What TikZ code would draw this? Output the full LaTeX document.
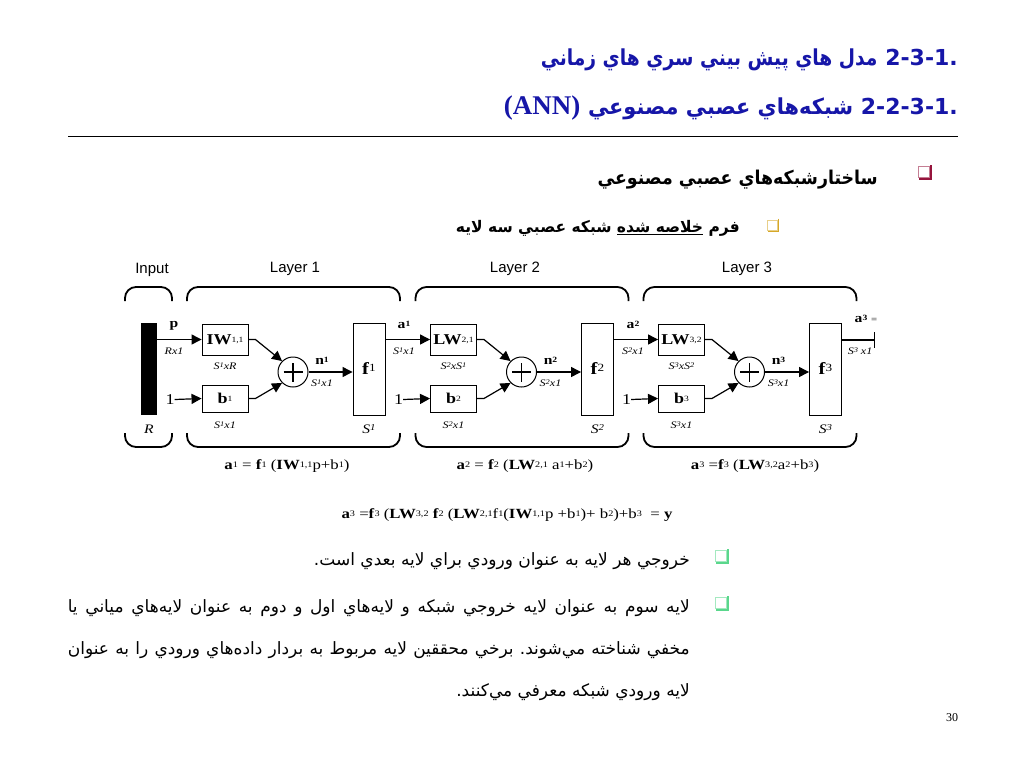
\documentclass[tikz,border=0pt]{standalone}
\usepackage{fontspec}
\setmainfont{Liberation Serif}
\setsansfont{Liberation Sans}
\newfontfamily\fa[Script=Arabic]{DejaVu Sans}
\newfontfamily\dg[FakeStretch=1.2]{Liberation Serif}
\TeXXeTstate=1
\frenchspacing
\usetikzlibrary{arrows.meta}
\definecolor{titleblue}{RGB}{22,22,168}
\definecolor{bred}{RGB}{150,20,60}
\definecolor{bgold}{RGB}{214,168,40}
\definecolor{bgreen}{RGB}{90,215,140}
\newcommand\sps[1]{\raisebox{0.3ex}{\fontsize{8}{8}\selectfont #1}}
\newcommand\fsp[1]{\raisebox{0.3ex}{\fontsize{8.5}{8.5}\selectfont #1}}
\newcommand\dsup[1]{\raisebox{0.45ex}{\fontsize{7}{7}\selectfont #1}}
\newcommand\dimt[1]{{\dg\itshape\fontsize{10}{10}\selectfont #1}}
\tikzset{
 wbox/.style={draw, line width=0.9pt, minimum width=46pt, minimum height=31pt, inner sep=0pt, font=\dg\fontsize{15}{15}\selectfont},
 bbox/.style={wbox, minimum height=27pt},
 fbox/.style={draw, line width=0.9pt, minimum width=32pt, minimum height=92pt, inner sep=0pt, font=\dg\fontsize{17}{17}\selectfont},
 sumc/.style={draw, circle, line width=1pt, minimum size=30pt, inner sep=0pt},
 conn/.style={line width=1.2pt, -{Triangle[length=10pt,width=10pt]}},
 brk/.style={line width=1.8pt, rounded corners=11pt},
 lay/.style={font=\sffamily\fontsize{15}{15}\selectfont, inner sep=0pt},
 lbl/.style={font=\dg\bfseries\fontsize{13}{13}\selectfont, inner sep=0pt},
 dl/.style={inner sep=0pt},
 frm/.style={font=\dg\fontsize{14}{14}\selectfont, inner sep=0pt},
 sqb/.style={draw=#1!55, line width=0.8pt, minimum size=11pt, inner sep=0pt, fill=white},
 shd/.style={draw=#1, line width=1.6pt},
 fatext/.style={font=\fa\fontsize{17}{17}\selectfont, inner sep=0pt},
}
\begin{document}
\begin{tikzpicture}[x=1pt,y=-1pt]
\useasboundingbox (0,0) rectangle (1024,768);
\fill[white] (0,0) rectangle (1024,768);

% ---------- titles ----------
\node[anchor=east, inner sep=0pt, text=titleblue, font=\fa\bfseries\fontsize{22}{22}\selectfont] (t1) at (958,60)
  {\scalebox{0.85}[1]{\beginR مدل هاي پيش بيني سري هاي زماني\endR}{} .2-3-1};
\node[anchor=east, inner sep=0pt, text=titleblue, font=\fa\bfseries\fontsize{22}{22}\selectfont] (t2) at (958,108)
  {{\rmfamily\bfseries\fontsize{27}{27}\selectfont (ANN)} \scalebox{0.95}[1]{\beginR شبکه^^^^200cهاي عصبي مصنوعي\endR}{} .2-2-3-1};
\draw[line width=0.8pt] (68,136) -- (958,136);

% ---------- bullets ----------
\node[sqb=bred] (q1) at (924,172) {};
\draw[shd=bred] ([xshift=1pt,yshift=1pt]q1.north east) |- ([xshift=1pt,yshift=-1pt]q1.south west);
\node[anchor=east, inner sep=0pt, font=\fa\bfseries\fontsize{19}{19}\selectfont] (bt1) at (878,180)
  {\scalebox{0.915}[1]{\beginR ساختارشبکه^^^^200cهاي عصبي مصنوعي\endR}};
\node[sqb=bgold, minimum size=10pt] (q2) at (772,225) {};
\draw[shd=bgold, line width=1.4pt] ([xshift=1pt,yshift=1pt]q2.north east) |- ([xshift=1pt,yshift=-1pt]q2.south west);
\node[anchor=east, inner sep=0pt, font=\fa\bfseries\fontsize{16}{16}\selectfont] (bt2) at (740,228)
  {\scalebox{0.97}[1]{\beginR فرم \underline{\beginR خلاصه شده\endR} شبکه عصبي سه لايه\endR}};

% ---------- diagram: layer titles ----------
\node[lay] (inp) at (152,270) {Input};
\node[lay] (ly1) at (295,269) {Layer 1};
\node[lay] (ly2) at (515,269) {Layer 2};
\node[lay] (ly3) at (747,269) {Layer 3};

% input
\draw[brk] (125,301) |- (148.5,287) -| (172,301);
\draw[brk] (125,433) |- (148.5,447) -| (172,433);
\node[fill=black, minimum width=16pt, minimum height=92pt, inner sep=0pt] (bar) at (149,369) {};
\node[dl] (Rl) at (149,429) {\dg\itshape\fontsize{13}{13}\selectfont R};

% layers
\foreach \i/\dx/\wlab/\wdim in {
  1/0/{\textbf{IW}\sps{1,1}}/{\dimt{S\dsup{1}xR}},
  2/228.5/{\textbf{LW}\sps{2,1}}/{\dimt{S\dsup{2}xS\dsup{1}}},
  3/456.5/{\textbf{LW}\sps{3,2}}/{\dimt{S\dsup{3}xS\dsup{2}}}}{
  \node[wbox] (w\i) at (225+\dx,339.5) {\wlab};
  \node[bbox] (b\i) at (225+\dx,398.5) {\textbf{b}\sps{\i}};
  \node[sumc] (s\i) at (293+\dx,372) {};
  \node[fbox] (f\i) at (369+\dx,369) {\textbf{f}\raisebox{0.45ex}{\fontsize{11}{11}\selectfont\i}};
  \node[dl] (one\i) at (170+\dx,399.5) {\dg\fontsize{15}{15}\selectfont 1};
  \draw[conn] (one\i.east) -- (b\i.west);
  \draw[conn] (w\i.east) -- ++(7,0) -- (s\i.135);
  \draw[conn] (b\i.east) -- ++(7,0) -- (s\i.225);
  \draw[conn] (s\i.east) -- (s\i.east -| f\i.west);
  \draw[line width=1.4pt] ([xshift=-9.5pt]s\i.center) -- ([xshift=9.5pt]s\i.center)
                          ([yshift=-9.5pt]s\i.center) -- ([yshift=9.5pt]s\i.center);
  \node[lbl] (n\i) at (322+\dx,361) {n\sps{\i}};
  \node[dl] (nd\i) at (322+\dx,383) {\dimt{S\dsup{\i}x1}};
  \node[dl] (wd\i) at (225+\dx,366) {\wdim};
  \node[dl] (bd\i) at (225+\dx,425) {\dimt{S\dsup{\i}x1}};
  \node[dl] (fs\i) at (369+\dx,429) {\dg\itshape\fontsize{13}{13}\selectfont S\raisebox{0.6ex}{\fontsize{9}{9}\selectfont\i}};
  \draw[brk] (187+\dx,301) |- (293+\dx,287) -| (400+\dx,301);
  \draw[brk] (187+\dx,433) |- (293+\dx,447) -| (400+\dx,433);
}

% connections between layers
\draw[conn] (bar.east |- w1.west) -- (w1.west);
\node[lbl] (pl) at (174,326) {p};
\node[dl] (pd) at (174,351) {\dimt{Rx1}};
\draw[conn] (f1.east |- w2.west) -- (w2.west);
\node[lbl] (a1l) at (404,325) {a\sps{1}};
\node[dl] (a1d) at (404,351) {\dimt{S\dsup{1}x1}};
\draw[conn] (f2.east |- w3.west) -- (w3.west);
\node[lbl] (a2l) at (633,325) {a\sps{2}};
\node[dl] (a2d) at (633,351) {\dimt{S\dsup{2}x1}};
\coordinate (outp) at (875,340);
\draw[line width=1.2pt, -{Bar[width=16pt,line width=1.2pt]}] (f3.east |- outp) -- (outp);
\node[lbl] (a3l) at (866,319) {a\sps{3} {\mdseries\fontsize{9}{9}\selectfont =}};
\node[dl] (a3d) at (860,351) {\dimt{S\dsup{3} x1}};

% formulas
\node[frm] (eq1) at (287,466) {\textbf{a}\fsp{1} = \textbf{f}\fsp{1} (\textbf{IW}\fsp{1,1}p+b\fsp{1})};
\node[frm] (eq2) at (525,466) {\textbf{a}\fsp{2} = \textbf{f}\fsp{2} (\textbf{LW}\fsp{2,1} a\fsp{1}+b\fsp{2})};
\node[frm] (eq3) at (755,466) {\textbf{a}\fsp{3} =\textbf{f}\fsp{3} (\textbf{LW}\fsp{3,2}a\fsp{2}+b\fsp{3})};
\node[frm] (eqall) at (507,515) {\textbf{a}\fsp{3} =\textbf{f}\fsp{3} (\textbf{LW}\fsp{3,2} \textbf{f}\fsp{2} (\textbf{LW}\fsp{2,1}f\fsp{1}(\textbf{IW}\fsp{1,1}p +b\fsp{1})+ b\fsp{2})+b\fsp{3} \ = \textbf{y}};

% ---------- lower bullets ----------
\node[sqb=bgreen] (q3) at (721,556) {};
\draw[shd=bgreen, line width=1.4pt] ([xshift=1pt,yshift=1pt]q3.north east) |- ([xshift=1pt,yshift=-1pt]q3.south west);
\node[fatext, anchor=east] (bt3) at (690,561)
  {\beginR خروجي هر لايه به عنوان ورودي براي لايه بعدي است.\endR};
\node[sqb=bgreen] (q4) at (721,603) {};
\draw[shd=bgreen, line width=1.4pt] ([xshift=1pt,yshift=1pt]q4.north east) |- ([xshift=1pt,yshift=-1pt]q4.south west);
\node[fatext, anchor=east] (p1) at (690,608)
  {\hbox to 622pt{\beginR لايه سوم به عنوان لايه خروجي شبکه و لايه^^^^200cهاي اول و دوم به عنوان لايه^^^^200cهاي مياني يا\endR}};
\node[fatext, anchor=east] (p2) at (690,650)
  {\hbox to 622pt{\beginR مخفي شناخته مي^^^^200cشوند. برخي محققين لايه مربوط به بردار داده^^^^200cهاي ورودي را به عنوان\endR}};
\node[fatext, anchor=east] (p3) at (690,692)
  {\beginR لايه ورودي شبکه معرفي مي^^^^200cکنند.\endR};

\node[dl, font=\rmfamily\fontsize{12}{12}\selectfont] (pg) at (952,718) {30};
\end{tikzpicture}
\end{document}
